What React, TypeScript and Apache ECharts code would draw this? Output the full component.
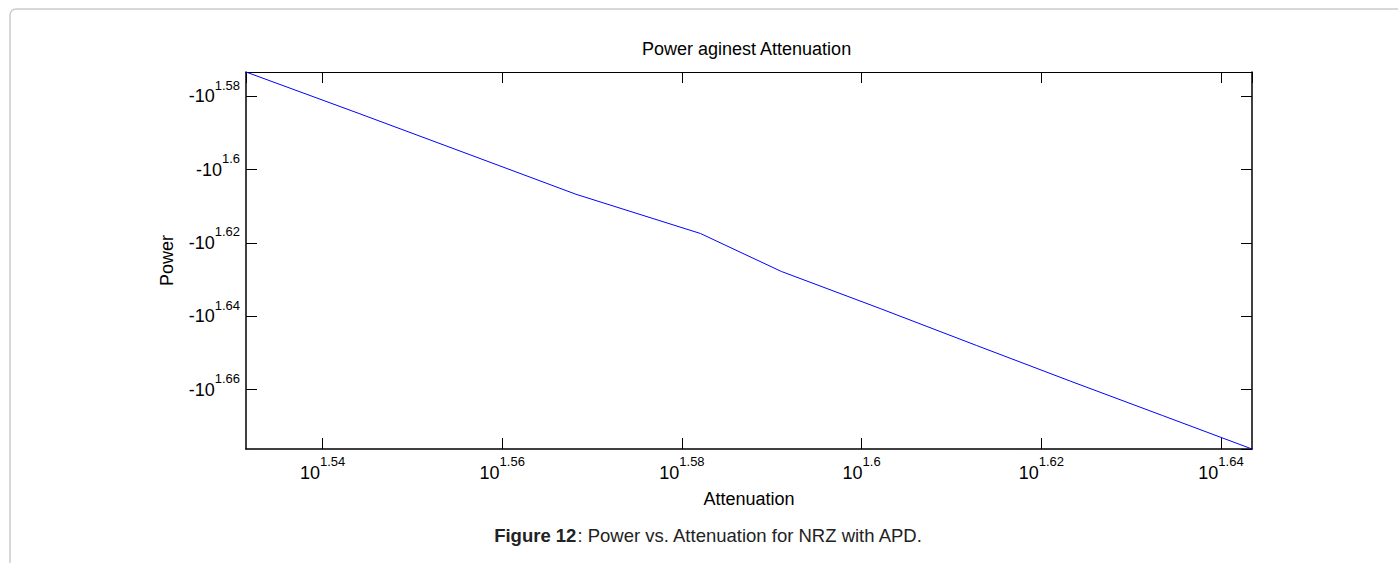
import React, { useEffect, useRef } from "react";
import * as echarts from "echarts";

// Data (attenuation in dB, power in dBm)
const attenuation = [34, 35, 36, 37, 38.2, 39, 40, 41, 42, 43, 44];
const power = [-37.44, -38.43, -39.43, -40.43, -41.44, -42.44, -43.44, -44.46, -45.47, -46.46, -47.45];

const xMin = 34;
const xMax = 44;
const yMin = 37.44; // magnitude of power (axis shows negative values)
const yMax = 47.45;

const titleText = "Power aginest Attenuation";
const xName = "Attenuation";
const yName = "Power";
const captionBold = "Figure 12";
const captionRest = ": Power vs. Attenuation for NRZ with APD.";

const FONT = '"Liberation Sans", Arial, Helvetica, sans-serif';
const LOG_BASE = Math.pow(10, 0.02);

function expLabel(v: number): string {
  const e = Math.log10(Math.abs(v));
  return String(parseFloat(e.toFixed(2)));
}

const rich = {
  b: { fontSize: 18, fontFamily: FONT, color: "#000" },
  s: { fontSize: 13, fontFamily: FONT, color: "#000", padding: [0, 0, 22, 0] },
};

export default function App() {
  const ref = useRef<HTMLDivElement>(null);
  useEffect(() => {
    if (!ref.current) return;
    const chart = echarts.init(ref.current, undefined, { renderer: "svg" });
    const data = attenuation.map((a, i) => [a, Math.abs(power[i])]);
    const tickStyle = { show: true, inside: true, length: 11, lineStyle: { color: "#000", width: 1 } };
    const lineStyle = { show: true, lineStyle: { color: "#000", width: 1.5 } };
    chart.setOption({
      animation: false,
      backgroundColor: "#fff",
      title: {
        text: titleText,
        left: 642,
        top: 40,
        padding: 0,
        textStyle: { fontSize: 18, fontWeight: "normal", color: "#000", fontFamily: FONT },
      },
      grid: { left: 246, right: 146, top: 72, bottom: 114, show: false },
      xAxis: [
        {
          type: "log",
          logBase: LOG_BASE,
          min: xMin,
          max: xMax,
          position: "bottom",
          name: xName,
          nameLocation: "middle",
          nameGap: 41,
          nameTextStyle: { fontSize: 18, color: "#000", fontFamily: FONT },
          axisLine: lineStyle,
          axisTick: tickStyle,
          splitLine: { show: false },
          axisLabel: {
            margin: 6,
            showMinLabel: false,
            showMaxLabel: false,
            formatter: (v: number) => `{b|10}{s|${expLabel(v)}}`,
            rich,
          },
        },
        {
          type: "log",
          logBase: LOG_BASE,
          min: xMin,
          max: xMax,
          position: "top",
          axisLine: { show: true, lineStyle: { color: "#000", width: 1 } },
          axisTick: tickStyle,
          splitLine: { show: false },
          axisLabel: { show: false },
        },
      ],
      yAxis: [
        {
          type: "log",
          logBase: LOG_BASE,
          min: yMin,
          max: yMax,
          inverse: true,
          position: "left",
          name: yName,
          nameLocation: "middle",
          nameGap: 70,
          nameRotate: 90,
          nameTextStyle: { fontSize: 18, color: "#000", fontFamily: FONT },
          axisLine: lineStyle,
          axisTick: tickStyle,
          splitLine: { show: false },
          axisLabel: {
            margin: 6,
            showMinLabel: false,
            showMaxLabel: false,
            formatter: (v: number) => `{b|-10}{s|${expLabel(v)}}`,
            rich,
          },
        },
        {
          type: "log",
          logBase: LOG_BASE,
          min: yMin,
          max: yMax,
          inverse: true,
          position: "right",
          axisLine: { show: true, lineStyle: { color: "#000", width: 1.5 } },
          axisTick: tickStyle,
          splitLine: { show: false },
          axisLabel: { show: false },
        },
      ],
      series: [
        {
          type: "line",
          xAxisIndex: 0,
          yAxisIndex: 0,
          data,
          showSymbol: false,
          symbol: "none",
          lineStyle: { color: "#0000ff", width: 1 },
        },
      ],
      graphic: [
        {
          type: "rect",
          shape: { x: 10, y: 9, width: 1420, height: 620, r: 6 },
          style: { fill: "none", stroke: "#cccccc", lineWidth: 1.5 },
          silent: true,
        },
        {
          type: "text",
          x: 708.5,
          y: 535,
          style: {
            text: `{b|${captionBold}}{n|${captionRest}}`,
            align: "center",
            verticalAlign: "middle",
            rich: {
              b: { fontSize: 18.5, fontWeight: "bold", fontFamily: FONT, fill: "#222" },
              n: { fontSize: 18.5, fontFamily: FONT, fill: "#222" },
            },
          },
        },
      ],
    });
    return () => chart.dispose();
  }, []);
  return (
    <div
      ref={ref}
      style={{ position: "fixed", left: 0, top: 0, width: 1398, height: 563, background: "#fff" }}
    />
  );
}
